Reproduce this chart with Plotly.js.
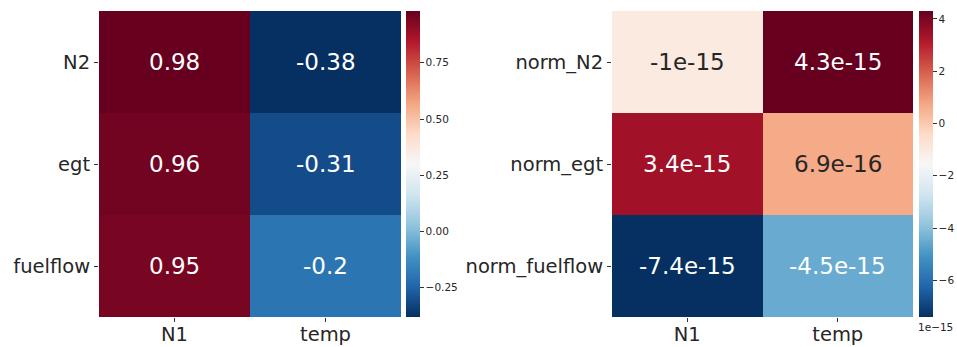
<!DOCTYPE html>
<html>
<head>
<meta charset="utf-8">
<script src="https://cdn.plot.ly/plotly-3.0.1.min.js"></script>
<style>html,body{margin:0;padding:0;background:#fff;}#chart{width:957px;height:347px;}</style>
</head>
<body>
<div id="chart"></div>
<script>
// ---- data ----
const cols1 = ['N1', 'temp'];
const rows1 = ['N2', 'egt', 'fuelflow'];
const z1 = [
  [0.98, -0.38],
  [0.96, -0.31],
  [0.95, -0.20]
];
const labels1 = [
  ['0.98', '-0.38'],
  ['0.96', '-0.31'],
  ['0.95', '-0.2']
];

const cols2 = ['N1', 'temp'];
const rows2 = ['norm_N2', 'norm_egt', 'norm_fuelflow'];
const z2 = [
  [-1.0e-15, 4.3e-15],
  [3.4e-15, 6.9e-16],
  [-7.4e-15, -4.5e-15]
];
const labels2 = [
  ['-1e-15', '4.3e-15'],
  ['3.4e-15', '6.9e-16'],
  ['-7.4e-15', '-4.5e-15']
];

const cb1Ticks = [-0.25, 0, 0.25, 0.5, 0.75];
const cb1Text = ['\u22120.25', '0.00', '0.25', '0.50', '0.75'];
const cb2Ticks = [-6e-15, -4e-15, -2e-15, 0, 2e-15, 4e-15];
const cb2Text = ['\u22126', '\u22124', '\u22122', '0', '2', '4'];

// ---- matplotlib RdBu_r ----
const rdbu = ['#053061','#2166ac','#4393c3','#92c5de','#d1e5f0','#f7f7f7','#fddbc7','#f4a582','#d6604d','#b2182b','#67001f'];
const cscale = rdbu.map((c, i) => [i / (rdbu.length - 1), c]);

function hex2rgb(h) { return [1,3,5].map(i => parseInt(h.substr(i, 2), 16)); }
function colorAt(t) {
  t = Math.max(0, Math.min(1, t));
  const n = rdbu.length - 1;
  const i = Math.min(n - 1, Math.floor(t * n));
  const f = t * n - i;
  const a = hex2rgb(rdbu[i]), b = hex2rgb(rdbu[i + 1]);
  return a.map((v, k) => v + (b[k] - v) * f);
}
function lum(rgb) {
  const c = rgb.map(v => { v /= 255; return v <= 0.03928 ? v / 12.92 : Math.pow((v + 0.055) / 1.055, 2.4); });
  return 0.2126 * c[0] + 0.7152 * c[1] + 0.0722 * c[2];
}

const FONT = 'DejaVu Sans, sans-serif';
const ytop = 1 - 11 / 347, ybot = 1 - 317 / 347;

function makeAnn(z, labels, cols, rows, xref, yref) {
  const flat = z.flat();
  const mn = Math.min(...flat), mx = Math.max(...flat);
  const out = [];
  rows.forEach((r, i) => cols.forEach((c, j) => {
    const t = (z[i][j] - mn) / (mx - mn);
    const dark = lum(colorAt(t)) > 0.408;
    out.push({
      x: c, y: r, xref: xref, yref: yref, text: labels[i][j], showarrow: false,
      font: {family: FONT, size: 23, color: dark ? '#262626' : '#ffffff'}
    });
  }));
  return out;
}

const cbCommon = {
  thickness: 14, thicknessmode: 'pixels', len: (317 - 11) / 347, lenmode: 'fraction',
  y: (ytop + ybot) / 2, yanchor: 'middle', xanchor: 'left', xpad: 0, ypad: 0,
  outlinewidth: 0, ticks: 'outside', ticklen: 4, tickwidth: 1, tickcolor: '#333',
  tickfont: {family: FONT, size: 10.5, color: '#262626'}, tickmode: 'array'
};

const traces = [
  {
    type: 'heatmap', z: z1, x: cols1, y: rows1, xaxis: 'x', yaxis: 'y',
    colorscale: cscale, hoverinfo: 'skip',
    colorbar: Object.assign({}, cbCommon, {x: 406 / 957, tickvals: cb1Ticks, ticktext: cb1Text})
  },
  {
    type: 'heatmap', z: z2, x: cols2, y: rows2, xaxis: 'x2', yaxis: 'y2',
    colorscale: cscale, hoverinfo: 'skip',
    colorbar: Object.assign({}, cbCommon, {x: 919 / 957, tickvals: cb2Ticks, ticktext: cb2Text})
  }
];

const axBase = {
  type: 'category', showgrid: false, zeroline: false, showline: false,
  ticks: 'outside', ticklen: 4, tickwidth: 1, tickcolor: '#333',
  tickfont: {family: FONT, size: 19.5, color: '#262626'}
};

const layout = {
  width: 957, height: 347,
  margin: {l: 0, r: 0, t: 0, b: 0},
  paper_bgcolor: '#fff', plot_bgcolor: '#fff',
  showlegend: false,
  xaxis: Object.assign({}, axBase, {domain: [99 / 957, 401 / 957], anchor: 'y', ticklabelstandoff: -4}),
  yaxis: Object.assign({}, axBase, {domain: [ybot, ytop], anchor: 'x', autorange: 'reversed'}),
  xaxis2: Object.assign({}, axBase, {domain: [612 / 957, 913 / 957], anchor: 'y2', ticklabelstandoff: -4}),
  yaxis2: Object.assign({}, axBase, {domain: [ybot, ytop], anchor: 'x2', autorange: 'reversed'}),
  annotations: [
    ...makeAnn(z1, labels1, cols1, rows1, 'x', 'y'),
    ...makeAnn(z2, labels2, cols2, rows2, 'x2', 'y2'),
    {xref: 'paper', yref: 'paper', x: 935 / 957, y: 1 - 327 / 347, xanchor: 'center', yanchor: 'middle',
     text: '1e\u221215', showarrow: false, font: {family: FONT, size: 10.5, color: '#262626'}}
  ]
};

Plotly.newPlot('chart', traces, layout, {displayModeBar: false, staticPlot: true});
</script>
</body>
</html>
